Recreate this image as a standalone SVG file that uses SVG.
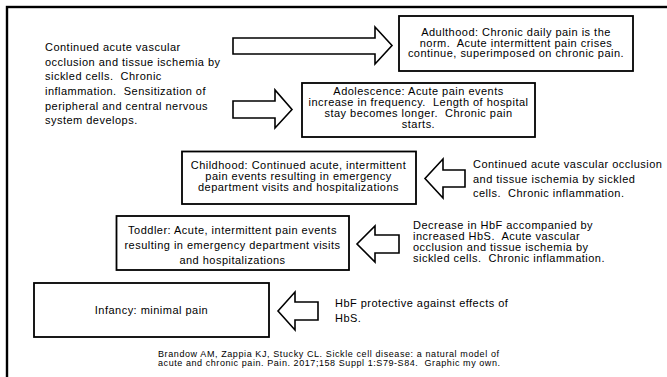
<svg xmlns="http://www.w3.org/2000/svg" width="667" height="377" viewBox="0 0 667 377">
<style>
text{font-family:"Liberation Sans",Arial,sans-serif;font-size:11px;letter-spacing:0.48px;fill:#000}
.c{text-anchor:middle}
.box{fill:#fff;stroke:#000;stroke-width:1.8}
.arr{fill:#fff;stroke:#000;stroke-width:1.6;stroke-linejoin:miter}
.cite{font-size:9px;letter-spacing:0}
</style>
<rect width="667" height="377" fill="#fff"/>
<rect x="7" y="7" width="700" height="420" fill="none" stroke="#000" stroke-width="2.4"/>
<g id="connectors">
<polygon class="arr" points="233,38 375,38 375,27 392,45.5 375,64 375,54 233,54"/>
<polygon class="arr" points="233,101 275,101 275,90 292,109.5 275,128 275,118 233,118"/>
<polygon class="arr" points="465,170 443,170 443,159 425,178.5 443,198 443,187 465,187"/>
<polygon class="arr" points="399,235 375,235 375,226 357,244 375,262 375,253 399,253"/>
<polygon class="arr" points="318,302 295,302 295,292 278,311 295,330 295,320 318,320"/>
</g>
<g id="left-text">
<text xml:space="preserve"><tspan x="45" y="51">Continued acute vascular</tspan><tspan x="45" y="65.7">occlusion and tissue ischemia by</tspan><tspan x="45" y="80.3">sickled cells.  Chronic</tspan><tspan x="45" y="95">inflammation.  Sensitization of</tspan><tspan x="45" y="109.7">peripheral and central nervous</tspan><tspan x="45" y="124.3">system develops.</tspan></text>
</g>
<g id="adulthood">
<rect class="box" x="399" y="16" width="234" height="55"/>
<text class="c" xml:space="preserve"><tspan x="516" y="35.7">Adulthood: Chronic daily pain is the</tspan><tspan x="516" y="46.6">norm.  Acute intermittent pain crises</tspan><tspan x="516" y="57.4">continue, superimposed on chronic pain.</tspan></text>
</g>
<g id="adolescence">
<rect class="box" x="302" y="83" width="233" height="54"/>
<text class="c" xml:space="preserve"><tspan x="418.5" y="95">Adolescence: Acute pain events</tspan><tspan x="418.5" y="106">increase in frequency.  Length of hospital</tspan><tspan x="418.5" y="116.8">stay becomes longer.  Chronic pain</tspan><tspan x="418.5" y="127.7">starts.</tspan></text>
</g>
<g id="childhood">
<rect class="box" x="182" y="151.5" width="234" height="52.5"/>
<text class="c" xml:space="preserve"><tspan x="298.5" y="169.3">Childhood: Continued acute, intermittent</tspan><tspan x="298.5" y="180">pain events resulting in emergency</tspan><tspan x="298.5" y="190.7">department visits and hospitalizations</tspan></text>
</g>
<g id="childhood-cause">
<text xml:space="preserve"><tspan x="473" y="168.3">Continued acute vascular occlusion</tspan><tspan x="473" y="182.6">and tissue ischemia by sickled</tspan><tspan x="473" y="196.8">cells.  Chronic inflammation.</tspan></text>
</g>
<g id="toddler">
<rect class="box" x="116.5" y="216" width="232.5" height="54"/>
<text class="c" xml:space="preserve"><tspan x="232.5" y="233.5">Toddler: Acute, intermittent pain events</tspan><tspan x="232.5" y="248.5">resulting in emergency department visits</tspan><tspan x="232.5" y="263.5">and hospitalizations</tspan></text>
</g>
<g id="toddler-cause">
<text xml:space="preserve"><tspan x="413" y="229.3">Decrease in HbF accompanied by</tspan><tspan x="413" y="240">increased HbS.  Acute vascular</tspan><tspan x="413" y="250.7">occlusion and tissue ischemia by</tspan><tspan x="413" y="261.6">sickled cells.  Chronic inflammation.</tspan></text>
</g>
<g id="infancy">
<rect class="box" x="34" y="283" width="235" height="54"/>
<text class="c" x="151.5" y="314">Infancy: minimal pain</text>
</g>
<g id="infancy-cause">
<text><tspan x="335" y="307">HbF protective against effects of</tspan><tspan x="335" y="321.5">HbS.</tspan></text>
</g>
<g id="citation">
<text class="cite" xml:space="preserve"><tspan x="158" y="357.3" textLength="341" lengthAdjust="spacing">Brandow AM, Zappia KJ, Stucky CL. Sickle cell disease: a natural model of</tspan><tspan x="158" y="366.3" textLength="342" lengthAdjust="spacing">acute and chronic pain. Pain. 2017;158 Suppl 1:S79-S84.  Graphic my own.</tspan></text>
</g>
</svg>
